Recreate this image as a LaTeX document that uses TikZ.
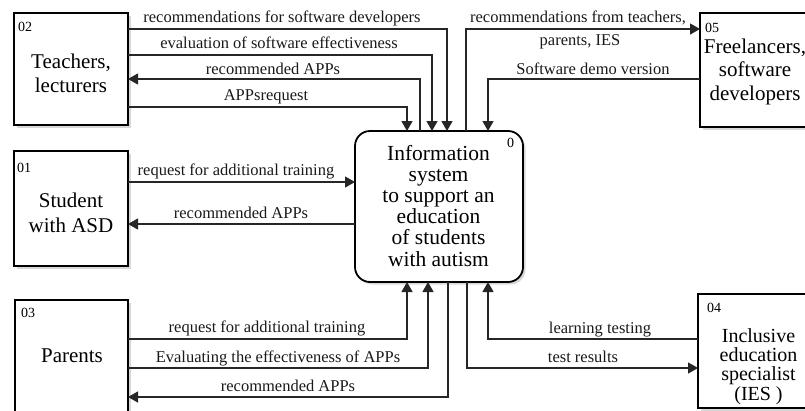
\documentclass[tikz,border=0pt]{standalone}
\usepackage{fontspec}
\setmainfont{Liberation Serif}
\usetikzlibrary{arrows.meta,shadows}
\begin{document}
\begin{tikzpicture}[x=1pt,y=-1pt,
  ent/.style={draw=black,line width=2.2pt,fill=white,outer sep=0pt,inner sep=0pt,
     drop shadow={shadow xshift=2.5pt,shadow yshift=-2.5pt,fill=black!30}},
  proc/.style={ent,rounded corners=15pt,line width=1.8pt},
  flow/.style={draw=black!85,line width=1.3pt,-{Triangle[length=10pt,width=11pt]}},
  lbl/.style={font=\fontsize{16.5}{18}\selectfont,inner sep=0pt,anchor=base,text=black!90},
  ttl/.style={align=center,inner sep=0pt,anchor=base},
  num/.style={font=\fontsize{14}{14}\selectfont,inner sep=0pt,anchor=base west},
]
\useasboundingbox (0,0) rectangle (805,410);

% boxes
\node[ent,minimum width=114pt,minimum height=112pt] (t02) at (71,69) {};
\node[ent,minimum width=114pt,minimum height=115pt] (s01) at (71,208.5) {};
\node[ent,minimum width=113pt,minimum height=120pt] (p03) at (71.5,360) {};
\node[ent,minimum width=114pt,minimum height=114pt] (f05) at (757,70) {};
\node[ent,minimum width=116pt,minimum height=114pt] (i04) at (756,351) {};
\node[proc,minimum width=168pt,minimum height=151pt] (c0) at (439,206.5) {};

% box texts (base anchor = baseline of the last line)
\node[ttl,font=\fontsize{21}{24}\selectfont] (t02t) at (71,92) {Teachers,\\lecturers};
\node[num] (t02n) at (18,31) {02};
\node[ttl,font=\fontsize{21}{25}\selectfont] (s01t) at (71,232) {Student\\with ASD};
\node[num] (s01n) at (17,172) {01};
\node[ttl,font=\fontsize{21}{24}\selectfont] (p03t) at (72,362) {Parents};
\node[num] (p03n) at (21,317) {03};
\node[ttl,font=\fontsize{21.5}{21.2}\selectfont] (c0t) at (438.5,266) {Information\\system\\to support an\\education\\of students\\with autism};
\node[num] (c0n) at (507,147) {0};
\node[ttl,font=\fontsize{21}{23.5}\selectfont] (f05t) at (755,100) {Freelancers,\\software\\developers};
\node[num] (f05n) at (705,32) {05};
\node[ttl,font=\fontsize{20}{19.3}\selectfont] (i04t) at (758.5,400) {Inclusive\\education\\specialist\\(IES )};
\node[num] (i04n) at (707,312) {04};

% top flows
\draw[flow] (t02.east |- 0,29) -| (c0.north -| 447,0);
\draw[flow] (t02.east |- 0,55) -| (c0.north -| 432,0);
\draw[flow] (c0.north -| 420,0) |- (t02.east |- 0,79);
\draw[flow] (t02.east |- 0,107) -| (c0.north -| 407,0);
\draw[flow] (c0.north -| 466,0) |- (f05.west |- 0,29);
\draw[flow] (f05.west |- 0,79) -| (c0.north -| 488,0);
% left flows
\draw[flow] (s01.east |- 0,182) -- (c0.west |- 0,182);
\draw[flow] (c0.west |- 0,224) -- (s01.east |- 0,224);
% bottom flows
\draw[flow] (p03.east |- 0,339) -| (c0.south -| 407,0);
\draw[flow] (p03.east |- 0,368) -| (c0.south -| 428,0);
\draw[flow] (c0.south -| 448,0) |- (p03.east |- 0,397);
\draw[flow] (i04.west |- 0,339) -| (c0.south -| 488,0);
\draw[flow] (c0.south -| 467,0) |- (i04.west |- 0,368);

% labels
\node[lbl] (l1) at (282,22) {recommendations for software developers};
\node[lbl] (l2) at (279,48) {evaluation of software effectiveness};
\node[lbl] (l3) at (273,74) {recommended APPs};
\node[lbl] (l4) at (266,100) {APPsrequest};
\node[lbl] (l5) at (578,22) {recommendations from teachers,};
\node[lbl] (l6) at (580,45) {parents, IES};
\node[lbl] (l7) at (593,74) {Software demo version};
\node[lbl] (l8) at (236,175) {request for additional training};
\node[lbl] (l9) at (241,218) {recommended APPs};
\node[lbl] (l10) at (267,332) {request for additional training};
\node[lbl] (l11) at (278,362) {Evaluating the effectiveness of APPs};
\node[lbl] (l12) at (288,391) {recommended APPs};
\node[lbl] (l13) at (600,333) {learning testing};
\node[lbl] (l14) at (583,362) {test results};
\end{tikzpicture}
\end{document}
